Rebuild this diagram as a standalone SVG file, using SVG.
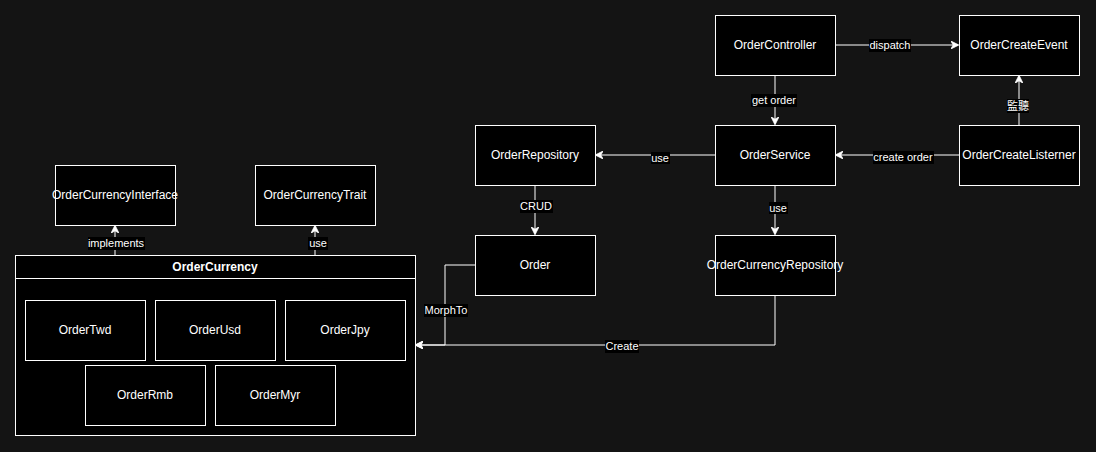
<svg xmlns="http://www.w3.org/2000/svg" width="1096" height="452" viewBox="0 0 1096 452">
<style>
.node{fill:#000;stroke:#fff;stroke-width:1}
.nt{font-family:"Liberation Sans",Arial,sans-serif;font-size:12px;fill:#fff;text-anchor:middle;dominant-baseline:central}
.bt{font-weight:bold}
.edge{fill:none;stroke:#fff;stroke-width:1}
.lb{fill:#000}
.lt{font-family:"Liberation Sans","Noto Sans CJK TC",sans-serif;font-size:11px;fill:#fff;text-anchor:middle;dominant-baseline:central}
</style>
<defs>
<marker id="arr" viewBox="0 0 10 10" refX="9" refY="5" markerWidth="8" markerHeight="8" orient="auto" markerUnits="userSpaceOnUse">
<path d="M0,0 L10,5 L0,10 L3,5 z" fill="#fff" stroke="#fff" stroke-width="1"/>
</marker>
</defs>
<rect x="0" y="0" width="1096" height="452" fill="#141414"/>

<g id="connectors">
<path class="edge" d="M835,45 L958,45" marker-end="url(#arr)"/>
<path class="edge" d="M775,75 L775,124" marker-end="url(#arr)"/>
<path class="edge" d="M1019,125 L1019,76" marker-end="url(#arr)"/>
<path class="edge" d="M959,155 L836,155" marker-end="url(#arr)"/>
<path class="edge" d="M715,155 L596,155" marker-end="url(#arr)"/>
<path class="edge" d="M535,185 L535,234" marker-end="url(#arr)"/>
<path class="edge" d="M775,185 L775,234" marker-end="url(#arr)"/>
<path class="edge" d="M475,265 L445,265 L445,345 L416,345" marker-end="url(#arr)"/>
<path class="edge" d="M775,295 L775,345 L416,345" marker-end="url(#arr)"/>
<path class="edge" d="M115,255 L115,226" marker-end="url(#arr)"/>
<path class="edge" d="M315,255 L315,226" marker-end="url(#arr)"/>

<rect class="lb" x="869" y="39" width="42" height="13"/><text class="lt" x="890" y="45">dispatch</text>
<rect class="lb" x="751" y="94" width="46" height="13"/><text class="lt" x="774" y="100">get order</text>
<rect class="lb" x="1007" y="99" width="22" height="14"/><text class="lt" x="1018" y="106">監聽</text>
<rect class="lb" x="873" y="151" width="61" height="13"/><text class="lt" x="903" y="157">create order</text>
<rect class="lb" x="651" y="152" width="19" height="12"/><text class="lt" x="660" y="158">use</text>
<rect class="lb" x="520" y="200" width="33" height="13"/><text class="lt" x="536" y="206">CRUD</text>
<rect class="lb" x="769" y="202" width="19" height="12"/><text class="lt" x="778" y="208">use</text>
<rect class="lb" x="424" y="304" width="44" height="13"/><text class="lt" x="446" y="310">MorphTo</text>
<rect class="lb" x="605" y="340" width="34" height="13"/><text class="lt" x="622" y="346">Create</text>
<rect class="lb" x="88" y="237" width="57" height="13"/><text class="lt" x="116" y="243">implements</text>
<rect class="lb" x="308" y="237" width="20" height="13"/><text class="lt" x="318" y="243">use</text>
</g>

<g id="OrderController"><rect class="node" x="715.5" y="15.5" width="120" height="60"/><text class="nt" x="775" y="45">OrderController</text></g>
<g id="OrderCreateEvent"><rect class="node" x="959.5" y="15.5" width="120" height="60"/><text class="nt" x="1019" y="45">OrderCreateEvent</text></g>
<g id="OrderService"><rect class="node" x="715.5" y="125.5" width="120" height="60"/><text class="nt" x="775" y="155">OrderService</text></g>
<g id="OrderCreateListerner"><rect class="node" x="959.5" y="125.5" width="120" height="60"/><text class="nt" x="1019" y="155">OrderCreateListerner</text></g>
<g id="OrderRepository"><rect class="node" x="475.5" y="125.5" width="120" height="60"/><text class="nt" x="535" y="155">OrderRepository</text></g>
<g id="Order"><rect class="node" x="475.5" y="235.5" width="120" height="60"/><text class="nt" x="535" y="265">Order</text></g>
<g id="OrderCurrencyRepository"><rect class="node" x="715.5" y="235.5" width="120" height="60"/><text class="nt" x="775" y="265">OrderCurrencyRepository</text></g>
<g id="OrderCurrencyInterface"><rect class="node" x="55.5" y="165.5" width="120" height="60"/><text class="nt" x="115" y="195">OrderCurrencyInterface</text></g>
<g id="OrderCurrencyTrait"><rect class="node" x="255.5" y="165.5" width="120" height="60"/><text class="nt" x="315" y="195">OrderCurrencyTrait</text></g>

<g id="OrderCurrency">
<rect class="node" x="15.5" y="255.5" width="400" height="180"/>
<line x1="15.5" y1="278.5" x2="415.5" y2="278.5" stroke="#fff"/>
<text class="nt bt" x="215" y="267">OrderCurrency</text>
</g>
<g id="OrderTwd"><rect class="node" x="25.5" y="300.5" width="120" height="60"/><text class="nt" x="85" y="330">OrderTwd</text></g>
<g id="OrderUsd"><rect class="node" x="155.5" y="300.5" width="120" height="60"/><text class="nt" x="215" y="330">OrderUsd</text></g>
<g id="OrderJpy"><rect class="node" x="285.5" y="300.5" width="120" height="60"/><text class="nt" x="345" y="330">OrderJpy</text></g>
<g id="OrderRmb"><rect class="node" x="85.5" y="365.5" width="120" height="60"/><text class="nt" x="145" y="395">OrderRmb</text></g>
<g id="OrderMyr"><rect class="node" x="215.5" y="365.5" width="120" height="60"/><text class="nt" x="275" y="395">OrderMyr</text></g>
</svg>
